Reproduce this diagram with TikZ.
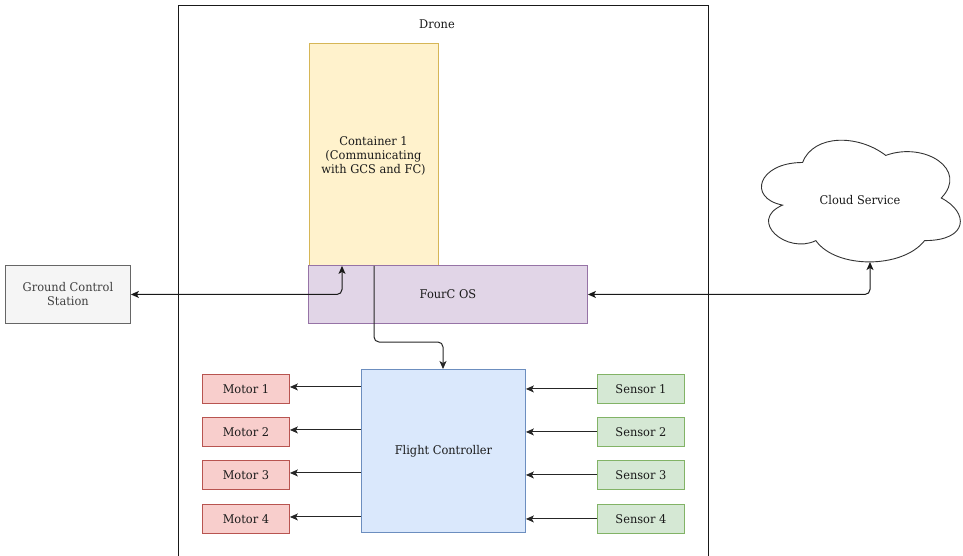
\documentclass[tikz,border=0pt]{standalone}
\usepackage{fontspec}
\setmainfont[FakeStretch=0.95]{DejaVu Serif}
\usetikzlibrary{arrows.meta}
\definecolor{contfill}{HTML}{FFF2CC}\definecolor{contline}{HTML}{D6B656}
\definecolor{osfill}{HTML}{E1D5E7}\definecolor{osline}{HTML}{9673A6}
\definecolor{gcsfill}{HTML}{F5F5F5}\definecolor{gcsline}{HTML}{666666}
\definecolor{fcfill}{HTML}{DAE8FC}\definecolor{fcline}{HTML}{6C8EBF}
\definecolor{motfill}{HTML}{F8CECC}\definecolor{motline}{HTML}{B85450}
\definecolor{senfill}{HTML}{D5E8D4}\definecolor{senline}{HTML}{82B366}
\definecolor{txt}{HTML}{1A1A1A}
\tikzset{
  lbl/.style={text=txt, font=\fontsize{12}{14}\selectfont, align=center},
  box/.style={lbl, draw, line width=0.9pt, inner sep=0pt, anchor=north west},
  motorbox/.style={box, fill=motfill, draw=motline, minimum width=87pt, minimum height=29pt},
  sensorbox/.style={box, fill=senfill, draw=senline, minimum width=87pt, minimum height=29pt},
  tip/.tip={Stealth[length=8pt,width=7pt,inset=2pt]},
  link/.style={line width=1pt, draw=black!85, -tip},
  dlink/.style={line width=1pt, draw=black!90, tip-tip, rounded corners=5pt}
}
\begin{document}
\begin{tikzpicture}[x=1pt,y=-1pt]
\useasboundingbox (0,0) rectangle (963,555);
% drone frame
\draw[line width=1pt, draw=black!90] (178,556) -- (178,5) -- (708,5) -- (708,556);
\node[lbl] (dronelbl) at (437,24) {Drone};
% main blocks
\node[box, fill=contfill, draw=contline, minimum width=129pt, minimum height=222pt] (cont) at (309,43) {};
\node[lbl] (contlbl) at (373.5,156) {Container 1\\(Communicating\\with GCS and FC)};
\node[box, fill=osfill, draw=osline, minimum width=279pt, minimum height=58pt] (os) at (308,265) {FourC OS};
\node[box, fill=gcsfill, draw=gcsline, text=black!75, minimum width=125pt, minimum height=58pt] (gcs) at (5,265) {Ground Control\\Station};
\node[box, fill=fcfill, draw=fcline, minimum width=164pt, minimum height=163pt] (fc) at (361,369) {Flight Controller};
% motors and sensors
\node[motorbox] (m1) at (202,374) {Motor 1};
\node[motorbox] (m2) at (202,417) {Motor 2};
\node[motorbox] (m3) at (202,460) {Motor 3};
\node[motorbox] (m4) at (202,504) {Motor 4};
\node[sensorbox] (s1) at (597,374) {Sensor 1};
\node[sensorbox] (s2) at (597,417) {Sensor 2};
\node[sensorbox] (s3) at (597,460) {Sensor 3};
\node[sensorbox] (s4) at (597,504) {Sensor 4};
% cloud
\begin{scope}[shift={(747,127)}, x=222pt, y=-142pt]
\draw[line width=0.9pt, draw=black!80, fill=white]
  (0.25,0.25) .. controls (0.05,0.25) and (0,0.5) .. (0.16,0.55)
  .. controls (0,0.66) and (0.18,0.9) .. (0.31,0.8)
  .. controls (0.4,1) and (0.7,1) .. (0.8,0.8)
  .. controls (1,0.8) and (1,0.6) .. (0.875,0.5)
  .. controls (1,0.3) and (0.8,0.1) .. (0.625,0.2)
  .. controls (0.5,0.05) and (0.3,0.05) .. cycle;
\end{scope}
\node[lbl] (cloud) at (860,200) {Cloud Service};
\coordinate (cloudbot) at (870,262);
% connectors
\draw[dlink] (gcs.east) -| ([xshift=33pt]cont.south west);
\draw[dlink] (os.east) -| (cloudbot);
\draw[link, rounded corners=5pt] ([xshift=65pt]cont.south west) |- (443,342) -- ([xshift=82pt]fc.north west);
\foreach \i in {1,...,4}{
  \draw[link] (fc.west |- m\i.east) ++(0,-2) -- ([yshift=2pt]m\i.east);
  \draw[link] (s\i.west) -- (fc.east |- s\i.west);
}
\end{tikzpicture}
\end{document}
